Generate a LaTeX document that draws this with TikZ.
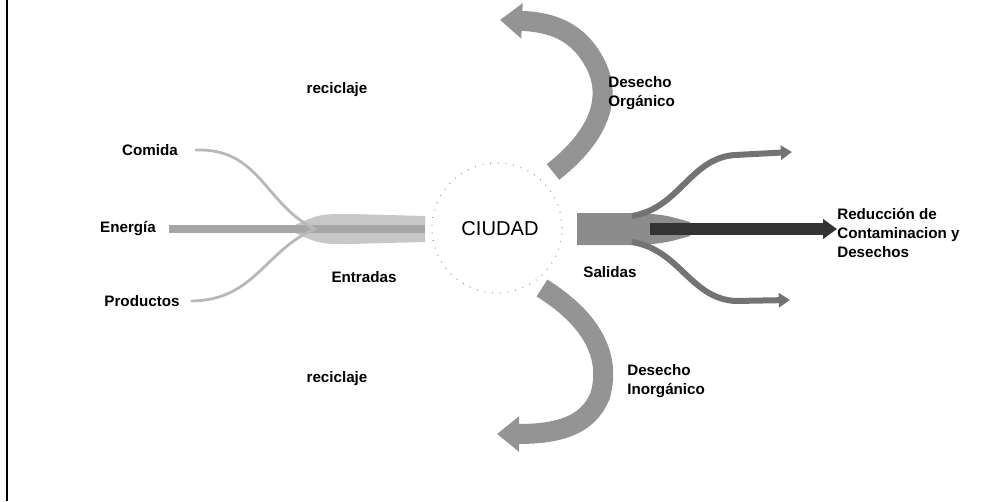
\documentclass[tikz,border=0pt]{standalone}
\usepackage{fontspec}
\setmainfont{Liberation Sans}
\usetikzlibrary{arrows.meta}
\tikzset{
  lbl/.style={font=\bfseries\fontsize{10.8}{13.5}\selectfont, inner sep=0pt},
  lblblock/.style={lbl, align=left, anchor=north west},
  inline/.style={draw=black!28, line width=0.07cm, line cap=round},
  wastearrow/.style={draw=black!42, line width=0.5cm,
    -{Triangle[length=0.55cm, width=0.85cm]}},
  branch/.style={draw=black!55, line width=0.15cm,
    -{Triangle[length=0.28cm, width=0.35cm]}}
}
\begin{document}
\begin{tikzpicture}[x=0.025cm,y=-0.025cm]
\useasboundingbox (0,0) rectangle (1006,501);
\draw[line width=0.04cm] (7,0) -- (7,501);

% city
\node[circle, minimum size=3.25cm, draw=black!45, line width=0.03cm,
  dash pattern=on 0.5pt off 5pt] (ciudad) at (497,228) {};
\node[font=\fontsize{14.3}{16}\selectfont, inner sep=0pt] (ciudadtxt) at (500,229) {CIUDAD};

% inputs
\node[lbl] (comida) at (150,150) {Comida};
\node[lbl] (energia) at (128,229) {Energía};
\node[lbl] (productos) at (142,301) {Productos};
\node[lbl] (entradas) at (364,277) {Entradas};
\coordinate (merge) at (315,229);
\fill[black!22] (295,225) .. controls (320,214) .. (350,214) -- (425,216)
  -- (425,242) -- (350,244) .. controls (320,244) .. (295,233) -- cycle;
\draw[black!35, line width=0.2cm] (energia.east) ++(13,0) -- (merge) -- (425,229);
\draw[inline] (comida.east) ++(18,0) .. controls (260,148) and (265,205) .. (merge);
\draw[inline] (productos.east) ++(12,0) .. controls (255,300) and (265,250) .. (merge);

% waste
\node[lbl] (recarriba) at (337,90) {reciclaje};
\node[lbl] (recabajo) at (337,379) {reciclaje};
\coordinate (orgini) at (553,172);
\coordinate (orgfin) at (500,20);
\coordinate (inoini) at (542,288);
\coordinate (inofin) at (497,434);
\draw[wastearrow] (orgini) .. controls (600,135) and (615,95) .. (592,58)
  .. controls (575,30) and (550,22) .. (orgfin);
\draw[wastearrow] (inoini) .. controls (590,318) and (612,355) .. (600,396)
  .. controls (588,425) and (560,434) .. (inofin);
\node[lblblock] (organico) at (608,76) {Desecho\\Orgánico};
\node[lblblock] (inorganico) at (627,364) {Desecho\\Inorgánico};

% outputs
\node[lbl] (salidas) at (610,272) {Salidas};
\coordinate (salini) at (577,229);
\coordinate (arriba) at (792,152);
\coordinate (abajo) at (790,300);
\node[lblblock] (reduccion) at (837,208) {Reducción de\\Contaminacion y\\Desechos};
\fill[black!45] (salini) ++(0,-16) -- (640,213) .. controls (665,215) .. (690,222)
  -- (690,236) .. controls (665,243) .. (640,245) -- (577,245) -- cycle;
\draw[branch] (632,216) .. controls (680,208) and (690,158) .. (735,155) -- (arriba);
\draw[branch] (632,242) .. controls (680,250) and (690,298) .. (735,301) -- (abajo);
\draw[draw=black!80, line width=0.3cm, -{Triangle[length=0.35cm, width=0.48cm]}]
  (650,229) -- (reduccion.west |- salini);
\end{tikzpicture}
\end{document}
